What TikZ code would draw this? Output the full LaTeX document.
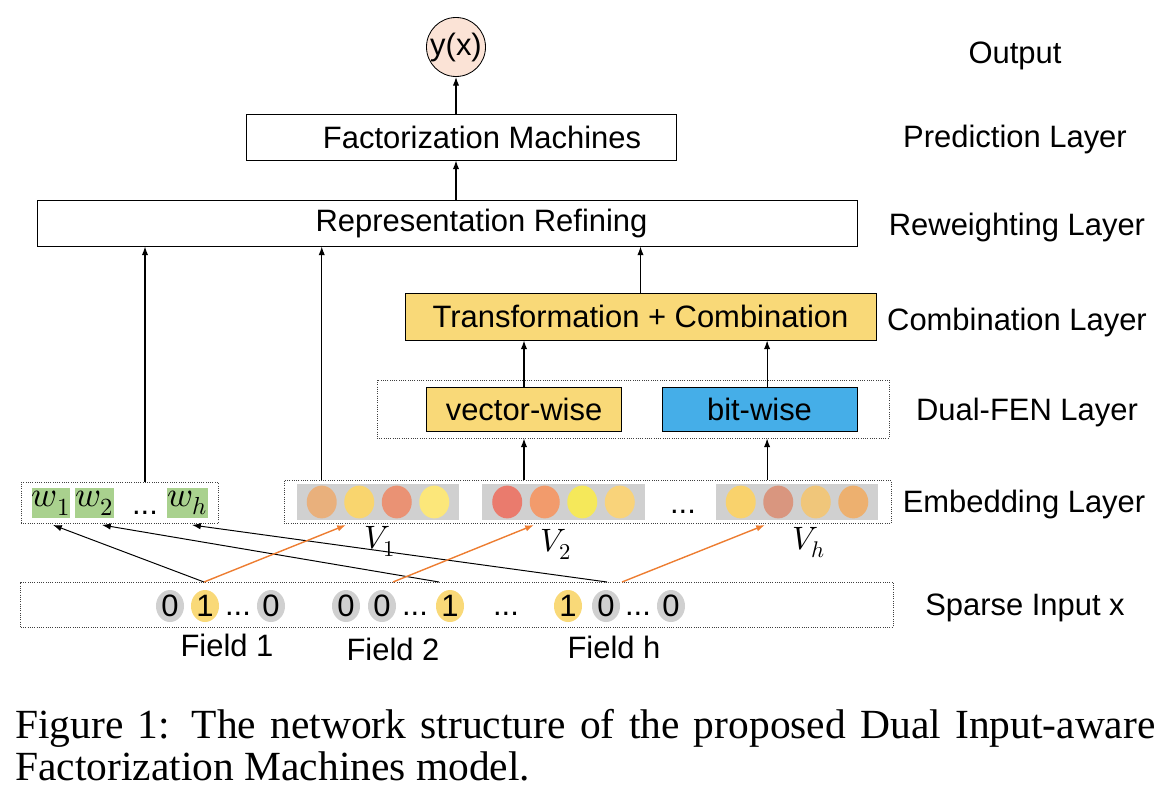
\documentclass[tikz,border=0pt]{standalone}
\usepackage{fontspec}
\usepackage{unicode-math}
\setmainfont{Liberation Sans}
\newfontfamily\capfont{Liberation Serif}
\usetikzlibrary{arrows.meta, positioning, shapes.geometric}

\definecolor{peach}{HTML}{FBE3D6}
\definecolor{gold}{HTML}{F9D978}
\definecolor{sky}{HTML}{45AEE8}
\definecolor{leaf}{HTML}{A9D18E}
\definecolor{slab}{HTML}{D0D0D0}
\definecolor{carrot}{HTML}{ED7D31}
% embedding colours
\definecolor{ca1}{HTML}{E9B07C}\definecolor{ca2}{HTML}{F9D56E}\definecolor{ca3}{HTML}{EA9274}\definecolor{ca4}{HTML}{FCE77A}
\definecolor{cb1}{HTML}{EA7B6D}\definecolor{cb2}{HTML}{F29B6C}\definecolor{cb3}{HTML}{F5E85A}\definecolor{cb4}{HTML}{F9D37A}
\definecolor{cc1}{HTML}{F9D26C}\definecolor{cc2}{HTML}{D9967F}\definecolor{cc3}{HTML}{F0C67A}\definecolor{cc4}{HTML}{EDB06F}

\begin{document}
\begin{tikzpicture}[
    x=0.025cm, y=-0.025cm,
    font=\fontsize{22}{26}\selectfont,
    plain/.style={draw, line width=0.6pt, fill=white, inner sep=0pt, minimum height=1.15cm},
    frame/.style={draw=black!75, densely dotted, line width=0.6pt, inner sep=0pt},
    emb/.style={ellipse, fill=#1, inner sep=0pt, minimum width=0.75cm, minimum height=0.82cm},
    offbit/.style={ellipse, fill=slab, inner sep=0pt, minimum width=0.7cm, minimum height=0.8cm},
    onbit/.style={ellipse, fill=gold, inner sep=0pt, minimum width=0.7cm, minimum height=0.8cm},
    wcell/.style={fill=leaf, inner sep=0pt, minimum width=0.7cm, minimum height=0.75cm, font=\fontsize{25}{28}\selectfont},
    mlab/.style={font=\fontsize{23}{26}\selectfont},
    arrow/.style={-{Latex[length=2.2mm,width=1.6mm]}, line width=0.8pt},
    feed/.style={-{Latex[length=2.2mm,width=1.6mm]}, line width=0.7pt},
    hot/.style={-{Latex[length=2.2mm,width=1.6mm]}, line width=1pt, draw=carrot}
]
\useasboundingbox (0,0) rectangle (1170,796);

% layers
\node[circle, draw, line width=0.6pt, fill=peach, minimum size=1.475cm, inner sep=0pt] (yx) at (456,47) {y(x)};
\node[plain, minimum width=10.75cm] (fm) at (461,137) {\hspace*{1.05cm}Factorization Machines};
\node[plain, minimum width=20.475cm] (refine) at (447.5,223) {\hspace*{1.7cm}Representation Refining};
\node[plain, fill=gold, minimum width=11.775cm, minimum height=1.175cm] (trans) at (640.5,316.5) {Transformation + Combination};
\node[frame, minimum width=12.8cm, minimum height=1.45cm] (fen) at (633,409) {};
\node[plain, fill=gold, minimum width=4.875cm, minimum height=1.1cm] (vec) at (524,409) {vector-wise};
\node[plain, fill=sky, minimum width=4.875cm, minimum height=1.1cm] (bitw) at (759.5,409) {bit-wise};
\coordinate (bitx) at ([xshift=0.19cm]bitw.center);

% embedding
\node[frame, minimum width=15.175cm, minimum height=1.075cm] (emb) at (587.5,502) {};
\foreach \g/\x in {g1/378, g2/563.5, g3/797}
    \node[fill=slab, minimum width=4.05cm, minimum height=0.9cm, inner sep=0pt] (\g) at (\x,502) {};
\foreach \g/\cl in {g1/{ca1,ca2,ca3,ca4}, g2/{cb1,cb2,cb3,cb4}, g3/{cc1,cc2,cc3,cc4}}
    \foreach \c [count=\i] in \cl
        \node[emb=\c, xshift=(\i-2.5)*0.9375cm] (\g-\i) at (\g) {};
\node (edots) at (683,512) {...};
\node[mlab] (v1) at (380,541) {$V_1$};
\node[mlab] (v2) at (556,544) {$V_2$};
\node[mlab] (vh) at (809,543) {$V_h$};

% weights
\node[frame, minimum width=4.925cm, minimum height=1.025cm] (wbox) at (119.5,503) {};
\node[wcell] (w1) at (51,503) {$w_1$};
\node[wcell] (w2) at (94.5,503) {$w_2$};
\node[wcell] (wh) at (187.5,503) {$w_h$};
\node (wdots) at (145,513) {...};

% sparse input
\node[frame, minimum width=21.8cm, minimum height=1.125cm] (sparse) at (457,604.5) {};
\foreach \x/\s/\t [count=\i] in {170/offbit/0, 205/onbit/1, 271/offbit/0, 346/offbit/0, 382/offbit/0,
        450/onbit/1, 568/onbit/1, 606/offbit/0, 671/offbit/0}
    \node[\s] (b\i) at (\x,606) {\t};
\foreach \x [count=\i] in {238,415,506,638}
    \node (d\i) at (\x,614) {...};
\node (f1) at (227,645) {Field 1};
\node (f2) at (393,649) {Field 2};
\node (fh) at (614,647) {Field h};

% layer names
\node (nout) at (1015,56) {Output};
\node (npred) at (1015,139) {Prediction Layer};
\node (nrew) at (1017,227) {Reweighting Layer};
\node (ncomb) at (1017,322) {Combination Layer};
\node (nfen) at (1027,412) {Dual-FEN Layer};
\node (nemb) at (1024,504) {Embedding Layer};
\node (nsp) at (1025,608) {Sparse Input x};

% caption
\node[anchor=north west, inner sep=0pt, text width=28.5cm, align=justify,
    font=\capfont\fontsize{29.5}{30}\selectfont] (cap) at (15,709)
    {Figure 1: The network structure of the proposed Dual Input-aware\linebreak Factorization Machines model.};

% upward arrows
\draw[arrow] (refine.north -| yx) -- (fm.south -| yx);
\draw[arrow] (fm.north -| yx) -- (yx.south);
\draw[arrow] (wbox.north -| wdots) -- (refine.south -| wdots);
\draw[arrow] (emb.north -| g1-1) -- (refine.south -| g1-1);
\draw[arrow] (trans.north) -- (refine.south -| trans);
\draw[arrow] (vec.north) -- (trans.south -| vec);
\draw[arrow] (bitw.north -| bitx) -- (trans.south -| bitx);
\draw[arrow] (emb.north -| vec) -- (fen.south -| vec);
\draw[arrow] (emb.north -| bitx) -- (fen.south -| bitx);

% sparse to weights and embeddings
\coordinate (s1) at (204,582);
\coordinate (s2k) at (439,582);
\coordinate (s2o) at (393,582);
\coordinate (shk) at (607,582);
\coordinate (sho) at (622,582);
\coordinate (t1) at (53,525);
\coordinate (t2) at (102,525);
\coordinate (th) at (192,525);
\coordinate (o1) at (346,525);
\coordinate (o2) at (534,525);
\coordinate (oh) at (765,525);
\draw[feed] (s1) -- (t1);
\draw[feed] (s2k) -- (t2);
\draw[feed] (shk) -- (th);
\draw[hot] (s1) -- (o1);
\draw[hot] (s2o) -- (o2);
\draw[hot] (sho) -- (oh);
\end{tikzpicture}
\end{document}
